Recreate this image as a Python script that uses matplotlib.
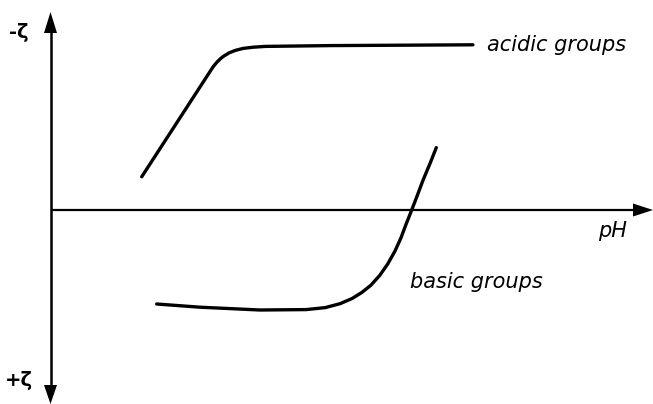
import matplotlib
matplotlib.use("Agg")
import matplotlib.pyplot as plt

# Data in schematic units: x = pH (arbitrary), y = -zeta (arbitrary)
acidic_x = [1.52, 2.71, 2.77, 2.83, 2.89, 2.98, 3.08, 3.21, 3.38, 3.58, 4.66, 7.04]
acidic_y = [0.83, 3.58, 3.69, 3.78, 3.85, 3.93, 3.99, 4.04, 4.07, 4.09, 4.11, 4.13]

basic_x = [1.77, 2.49, 3.49, 4.26, 4.58, 4.83, 5.03, 5.19, 5.34, 5.49, 5.62, 5.74,
           5.84, 5.92, 6.02, 6.11, 6.21, 6.33, 6.43]
basic_y = [-2.35, -2.43, -2.50, -2.49, -2.44, -2.34, -2.21, -2.06, -1.88, -1.63, -1.35, -1.03,
           -0.70, -0.38, 0.00, 0.35, 0.75, 1.18, 1.56]

labels = {"acid": "acidic groups", "base": "basic groups", "x": "pH",
          "top": "-ζ", "bottom": "+ζ"}

W, H = 653, 404
ox, oy = 50.5, 210.0   # origin in pixels
sx, sy = 60.0, 40.0     # pixels per unit

fig = plt.figure(figsize=(W / 100, H / 100), dpi=100)
ax = fig.add_axes([0, 0, 1, 1])
ax.set_xlim(-ox / sx, (W - ox) / sx)
ax.set_ylim(-(H - oy) / sy, oy / sy)
ax.axis("off")

def px(x):
    return (x - ox) / sx

def py(y):
    return (oy - y) / sy

# axes arrows
ax.plot([px(ox), px(636)], [0, 0], color="black", lw=1.6, solid_capstyle="butt")
ax.plot([0, 0], [py(30), py(388)], color="black", lw=1.8, solid_capstyle="butt")
ax.fill([px(633), px(653), px(633)], [py(203.5), py(210), py(216.5)], color="black", lw=0)
ax.fill([px(44), px(50.5), px(57)], [py(33), py(12), py(33)], color="black", lw=0)
ax.fill([px(44), px(50.5), px(57)], [py(385), py(404), py(385)], color="black", lw=0)

# curves
ax.plot(acidic_x, acidic_y, color="black", lw=2.4, solid_capstyle="round", solid_joinstyle="round")
ax.plot(basic_x, basic_y, color="black", lw=2.4, solid_capstyle="round", solid_joinstyle="round")

fs = 15
ax.text(px(487), py(45), labels["acid"], fontsize=fs, style="italic", ha="left", va="center",
        family="DejaVu Sans")
ax.text(px(410), py(282), labels["base"], fontsize=fs, style="italic", ha="left", va="center",
        family="DejaVu Sans")
ax.text(px(613), py(231), labels["x"], fontsize=fs, style="italic", ha="center", va="center",
        family="DejaVu Sans")
ax.text(px(19), py(32), labels["top"], fontsize=14, ha="center", va="center",
        family="DejaVu Sans", fontweight="bold")
ax.text(px(19), py(380), labels["bottom"], fontsize=14, ha="center", va="center",
        family="DejaVu Sans", fontweight="bold")

fig.savefig("out.png", dpi=100, facecolor="white")
